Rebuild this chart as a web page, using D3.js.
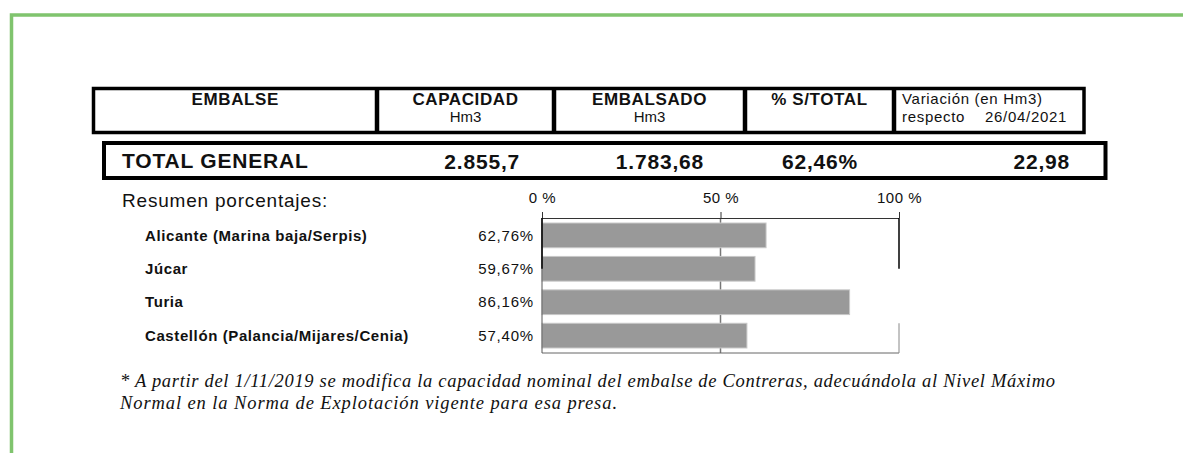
<!DOCTYPE html>
<html>
<head>
<meta charset="utf-8">
<script src="https://cdn.jsdelivr.net/npm/d3@7"></script>
<style>
  body { margin: 0; background: #fff; }
  svg { display: block; font-family: "Liberation Sans", Arial, sans-serif; }
</style>
</head>
<body>
<div id="chart"></div>
<script>
  // header of the summary table
  const columns = ["EMBALSE", "CAPACIDAD", "EMBALSADO", "% S/TOTAL"];
  const units = ["", "Hm3", "Hm3", ""];
  const variationLabel = ["Variación (en Hm3)", "respecto"];
  const refDate = "26/04/2021";

  // total row
  const totalLabel = "TOTAL GENERAL";
  const totals = ["2.855,7", "1.783,68", "62,46%", "22,98"];

  // percentage summary
  const categories = ["Alicante (Marina baja/Serpis)", "Júcar", "Turia", "Castellón (Palancia/Mijares/Cenia)"];
  const values = [62.76, 59.67, 86.16, 57.40];
  const ticks = [0, 50, 100];

  const note = [
    "* A partir del 1/11/2019 se modifica la capacidad nominal del embalse de Contreras, adecuándola al Nivel Máximo",
    "Normal en la Norma de Explotación vigente para esa presa."
  ];

  const width = 1183, height = 453;
  const es = d3.formatLocale({decimal: ",", thousands: ".", grouping: [3], currency: ["", "€"]});
  const pct = es.format(".2f");

  const svg = d3.select("#chart").append("svg")
    .attr("width", width)
    .attr("height", height);

  // green frame
  svg.append("path")
    .attr("d", "M11.5," + height + "V15H" + width)
    .attr("fill", "none")
    .attr("stroke", "#80c46e")
    .attr("stroke-width", 3.5);

  // ---- header table
  const colX = [93.5, 377, 554, 745, 894, 1084];
  const head = svg.append("g");
  head.append("rect")
    .attr("x", colX[0]).attr("y", 88.5)
    .attr("width", colX[5] - colX[0]).attr("height", 44)
    .attr("fill", "none").attr("stroke", "#000").attr("stroke-width", 3.5);
  head.selectAll(".sep")
    .data(colX.slice(1, 5))
    .enter().append("line")
    .attr("x1", d => d).attr("x2", d => d)
    .attr("y1", 88.5).attr("y2", 132.5)
    .attr("stroke", "#000").attr("stroke-width", 4.5);

  head.selectAll(".colname")
    .data(columns)
    .enter().append("text")
    .attr("x", (d, i) => (colX[i] + colX[i + 1]) / 2)
    .attr("y", 105)
    .attr("text-anchor", "middle")
    .style("font-size", "17px")
    .style("font-weight", "bold")
    .style("letter-spacing", "0.6px")
    .attr("fill", "#111")
    .text(d => d);

  head.selectAll(".unit")
    .data(units)
    .enter().append("text")
    .attr("x", (d, i) => (colX[i] + colX[i + 1]) / 2)
    .attr("y", 122)
    .attr("text-anchor", "middle")
    .style("font-size", "15px")
    .attr("fill", "#111")
    .text(d => d);

  head.selectAll(".var")
    .data(variationLabel)
    .enter().append("text")
    .attr("x", 902)
    .attr("y", (d, i) => 104 + i * 18)
    .style("font-size", "15px")
    .style("letter-spacing", "0.7px")
    .attr("fill", "#111")
    .text(d => d);
  head.append("text")
    .attr("x", 985).attr("y", 122)
    .style("font-size", "15px")
    .style("letter-spacing", "0.7px")
    .attr("fill", "#111")
    .text(refDate);

  // ---- total row
  const tot = svg.append("g");
  tot.append("rect")
    .attr("x", 104).attr("y", 143)
    .attr("width", 1001.5).attr("height", 35)
    .attr("fill", "none").attr("stroke", "#000").attr("stroke-width", 4);
  tot.append("text")
    .attr("x", 122).attr("y", 168)
    .style("font-size", "21px").style("font-weight", "bold")
    .style("letter-spacing", "0.8px")
    .attr("fill", "#111")
    .text(totalLabel);
  const totRight = [520, 704, 858, 1070];
  tot.selectAll(".tv")
    .data(totals)
    .enter().append("text")
    .attr("x", (d, i) => totRight[i])
    .attr("y", 169)
    .attr("text-anchor", "end")
    .style("font-size", "21px").style("font-weight", "bold")
    .style("letter-spacing", "0.8px")
    .attr("fill", "#111")
    .text(d => d);

  // ---- percentage bars
  svg.append("text")
    .attr("x", 122).attr("y", 207)
    .style("font-size", "19px")
    .style("letter-spacing", "0.8px")
    .attr("fill", "#111")
    .text("Resumen porcentajes:");

  const x = d3.scaleLinear().domain([0, 100]).range([542, 899]);
  const y = d3.scaleBand().domain(categories).range([218, 353])
    .paddingInner(0.26).paddingOuter(0.15);

  const plot = svg.append("g");

  plot.selectAll(".grid")
    .data(ticks.slice(1, -1))
    .enter().append("line")
    .attr("x1", d => x(d)).attr("x2", d => x(d))
    .attr("y1", y.range()[0]).attr("y2", y.range()[1])
    .attr("stroke", "#777").attr("stroke-width", 1.5);

  plot.selectAll(".bar")
    .data(values)
    .enter().append("rect")
    .attr("x", x(0))
    .attr("y", (d, i) => y(categories[i]))
    .attr("width", d => x(d) - x(0))
    .attr("height", y.bandwidth())
    .attr("fill", "#999")
    .attr("stroke", "#c8c8c8")
    .attr("stroke-width", 1);

  // frame
  const yTop = y.range()[0], yBottom = y.range()[1];
  const yMid = y(categories[1]) + y.bandwidth() / 2;
  plot.append("line")
    .attr("x1", x(0)).attr("x2", x(100)).attr("y1", yTop + 0.5).attr("y2", yTop + 0.5)
    .attr("stroke", "#333").attr("stroke-width", 1);
  plot.append("line")
    .attr("x1", x(0)).attr("x2", x(100)).attr("y1", yBottom).attr("y2", yBottom)
    .attr("stroke", "#666").attr("stroke-width", 1);
  plot.append("line")
    .attr("x1", x(0)).attr("x2", x(0)).attr("y1", yTop).attr("y2", yBottom)
    .attr("stroke", "#555").attr("stroke-width", 1);
  plot.append("line")
    .attr("x1", x(0)).attr("x2", x(0)).attr("y1", yTop).attr("y2", yMid)
    .attr("stroke", "#000").attr("stroke-width", 1.5);
  plot.append("line")
    .attr("x1", x(100)).attr("x2", x(100)).attr("y1", yTop).attr("y2", yMid)
    .attr("stroke", "#000").attr("stroke-width", 1.5);
  plot.append("line")
    .attr("x1", x(100)).attr("x2", x(100)).attr("y1", y(categories[3])).attr("y2", yBottom)
    .attr("stroke", "#888").attr("stroke-width", 1);

  const axis = plot.append("g")
    .attr("transform", "translate(0," + yTop + ")")
    .call(d3.axisTop(x).tickValues(ticks).tickSize(6).tickPadding(9).tickFormat(d => d + " %"));
  axis.select(".domain").remove();
  axis.selectAll(".tick line").attr("stroke", "#333");
  axis.selectAll("text")
    .attr("fill", "#111")
    .style("font-family", "Liberation Sans, Arial, sans-serif")
    .style("font-size", "15px")
    .style("letter-spacing", "0.5px");

  // row labels and values
  plot.selectAll(".cat")
    .data(categories)
    .enter().append("text")
    .attr("x", 145)
    .attr("y", d => y(d) + y.bandwidth() / 2)
    .attr("dy", "0.35em")
    .style("font-size", "15px").style("font-weight", "bold")
    .style("letter-spacing", "0.6px")
    .attr("fill", "#111")
    .text(d => d);

  plot.selectAll(".val")
    .data(values)
    .enter().append("text")
    .attr("x", 534)
    .attr("y", (d, i) => y(categories[i]) + y.bandwidth() / 2)
    .attr("dy", "0.35em")
    .attr("text-anchor", "end")
    .style("font-size", "15px")
    .style("letter-spacing", "0.8px")
    .attr("fill", "#111")
    .text(d => pct(d) + "%");

  // footnote
  const noteLen = [935, 497];
  svg.selectAll(".note")
    .data(note)
    .enter().append("text")
    .attr("x", 120)
    .attr("y", (d, i) => 387 + i * 22)
    .attr("textLength", (d, i) => noteLen[i])
    .attr("lengthAdjust", "spacing")
    .style("font-family", "Liberation Serif, 'Times New Roman', serif")
    .style("font-style", "italic")
    .style("font-size", "18.5px")
    .attr("fill", "#111")
    .text(d => d);
</script>
</body>
</html>
